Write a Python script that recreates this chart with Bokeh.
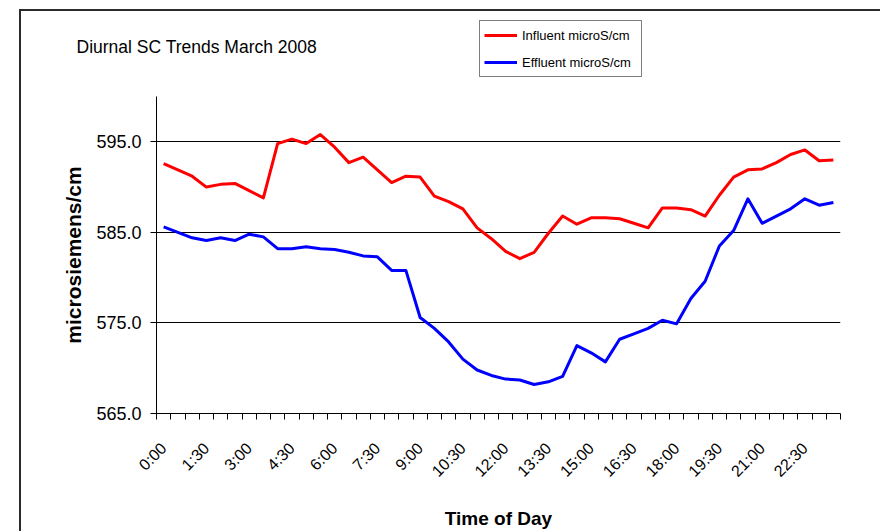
import math
from bokeh.plotting import figure
from bokeh.layouts import column
from bokeh.models import (Range1d, FixedTicker, Legend, LegendItem, Label,
                          PrintfTickFormatter)
from bokeh.embed import file_html
from bokeh.resources import INLINE

# ---- data -------------------------------------------------------------
times = [f"{h}:{m:02d}" for h in range(24) for m in (0, 30)]  # 48 half-hour categories

influent = [592.6, 591.9, 591.2, 590.0, 590.3, 590.4, 589.6, 588.8, 594.8, 595.3, 594.8, 595.8,
            594.4, 592.7, 593.3, 591.9, 590.5, 591.2, 591.1, 589.0, 588.4, 587.6, 585.5, 584.3,
            582.9, 582.1, 582.8, 584.9, 586.8, 585.9, 586.6, 586.6, 586.5, 586.0, 585.5, 587.7,
            587.7, 587.5, 586.8, 589.1, 591.1, 591.9, 592.0, 592.7, 593.6, 594.1, 592.9, 593.0]

effluent = [585.6, 585.0, 584.4, 584.1, 584.4, 584.1, 584.8, 584.5, 583.2, 583.2, 583.4, 583.2,
            583.1, 582.8, 582.4, 582.3, 580.8, 580.8, 575.6, 574.4, 572.9, 571.0, 569.8, 569.2,
            568.8, 568.7, 568.2, 568.5, 569.1, 572.5, 571.7, 570.7, 573.2, 573.8, 574.4, 575.3,
            574.9, 577.7, 579.6, 583.5, 585.2, 588.7, 586.0, 586.8, 587.6, 588.7, 588.0, 588.3]

tick_labels = ["0:00", "1:30", "3:00", "4:30", "6:00", "7:30", "9:00", "10:30",
               "12:00", "13:30", "15:00", "16:30", "18:00", "19:30", "21:00", "22:30"]
y_ticks = [565, 575, 585, 595]
y_grid = [575, 585, 595]
y_min, y_max = 565, 600

title_text = "Diurnal SC Trends March 2008"
series_names = ["Influent microS/cm", "Effluent microS/cm"]
series_colors = ["#FF0000", "#0000FF"]

FONT = "Liberation Sans"
W = 859
x = list(range(len(times)))

# ---- header strip: chart title and legend ------------------------------
head = figure(frame_width=W, frame_height=85, x_range=Range1d(0, 1), y_range=Range1d(0, 1),
              x_axis_type=None, y_axis_type=None, min_border=0,
              output_backend="svg", toolbar_location=None)
if "frame_align" in head.properties():
    head.frame_align = False
head.outline_line_color = None
head.grid.visible = False
head.background_fill_color = "white"
head.border_fill_color = "white"

# legend keys: the series drawn in the header lie outside its (0..1) view
key1 = head.line(x, influent, line_color=series_colors[0], line_width=3)
key2 = head.line(x, effluent, line_color=series_colors[1], line_width=3)

legend = Legend(items=[LegendItem(label=series_names[0], renderers=[key1]),
                       LegendItem(label=series_names[1], renderers=[key2])],
                location=(458, 19), margin=0, padding=4, spacing=7,
                glyph_width=33, glyph_height=20, label_standoff=5,
                label_height=20, label_width=115,
                label_text_font=FONT, label_text_font_size="13px",
                label_text_color="black",
                border_line_color="black", border_line_width=1,
                background_fill_color="white", background_fill_alpha=1.0)
head.add_layout(legend)

head.add_layout(Label(x=55, y=50, x_units="screen", y_units="screen", text=title_text,
                      text_font=FONT, text_font_size="17.5px", text_color="black",
                      text_baseline="alphabetic", text_align="left"))

# ---- main chart --------------------------------------------------------
p = figure(width=W, height=435,
           x_range=Range1d(-0.5, len(times) - 0.5),
           y_range=Range1d(y_min, y_max),
           output_backend="svg", toolbar_location=None,
           min_border_left=135, min_border_right=40,
           min_border_top=0, min_border_bottom=117)
if "frame_align" in p.properties():
    p.frame_align = False
p.outline_line_color = None
p.background_fill_color = "white"
p.border_fill_color = "white"

r1 = p.line(x, influent, line_color=series_colors[0], line_width=3, line_join="round")
r2 = p.line(x, effluent, line_color=series_colors[1], line_width=3, line_join="round")

# x axis: labels on category centres, tick marks between categories
label_pos = [times.index(t) for t in tick_labels]
boundaries = [k - 0.5 for k in range(len(times) + 1)]
xa = p.xaxis[0]
xa.ticker = FixedTicker(ticks=label_pos, minor_ticks=boundaries)
xa.major_label_overrides = {pos: lab for pos, lab in zip(label_pos, tick_labels)}
xa.major_label_orientation = math.pi / 4
xa.major_tick_out = 0
xa.major_tick_in = 0
xa.minor_tick_out = 6
xa.minor_tick_in = 0
xa.minor_tick_line_color = "black"
xa.axis_line_color = "black"
xa.major_label_text_font = FONT
xa.major_label_text_font_size = "16px"
xa.major_label_text_color = "black"
xa.major_label_standoff = 26
xa.axis_label = "Time of Day"
xa.axis_label_text_font = FONT
xa.axis_label_text_font_style = "bold"
xa.axis_label_text_font_size = "19px"
xa.axis_label_text_color = "black"
xa.axis_label_standoff = 19

ya = p.yaxis[0]
ya.ticker = FixedTicker(ticks=y_ticks, minor_ticks=[])
ya.formatter = PrintfTickFormatter(format="%.1f")
ya.major_tick_out = 6
ya.major_tick_in = 0
ya.major_tick_line_color = "black"
ya.axis_line_color = "black"
ya.major_label_text_font = FONT
ya.major_label_text_font_size = "18px"
ya.major_label_text_color = "black"
ya.major_label_standoff = 9
ya.axis_label = "microsiemens/cm"
ya.axis_label_text_font = FONT
ya.axis_label_text_font_style = "bold"
ya.axis_label_text_font_size = "21px"
ya.axis_label_text_color = "black"
ya.axis_label_standoff = 8

p.xgrid.visible = False
p.ygrid.ticker = FixedTicker(ticks=y_grid)
p.ygrid.grid_line_color = "black"
p.ygrid.grid_line_width = 1

layout = column(head, p, spacing=0)
layout.margin = (9, 0, 0, 19)
layout.styles = {"border-top": "2px solid #2b2b2b", "border-left": "2px solid #2b2b2b"}

open("out.html", "w").write(file_html(layout, INLINE))
